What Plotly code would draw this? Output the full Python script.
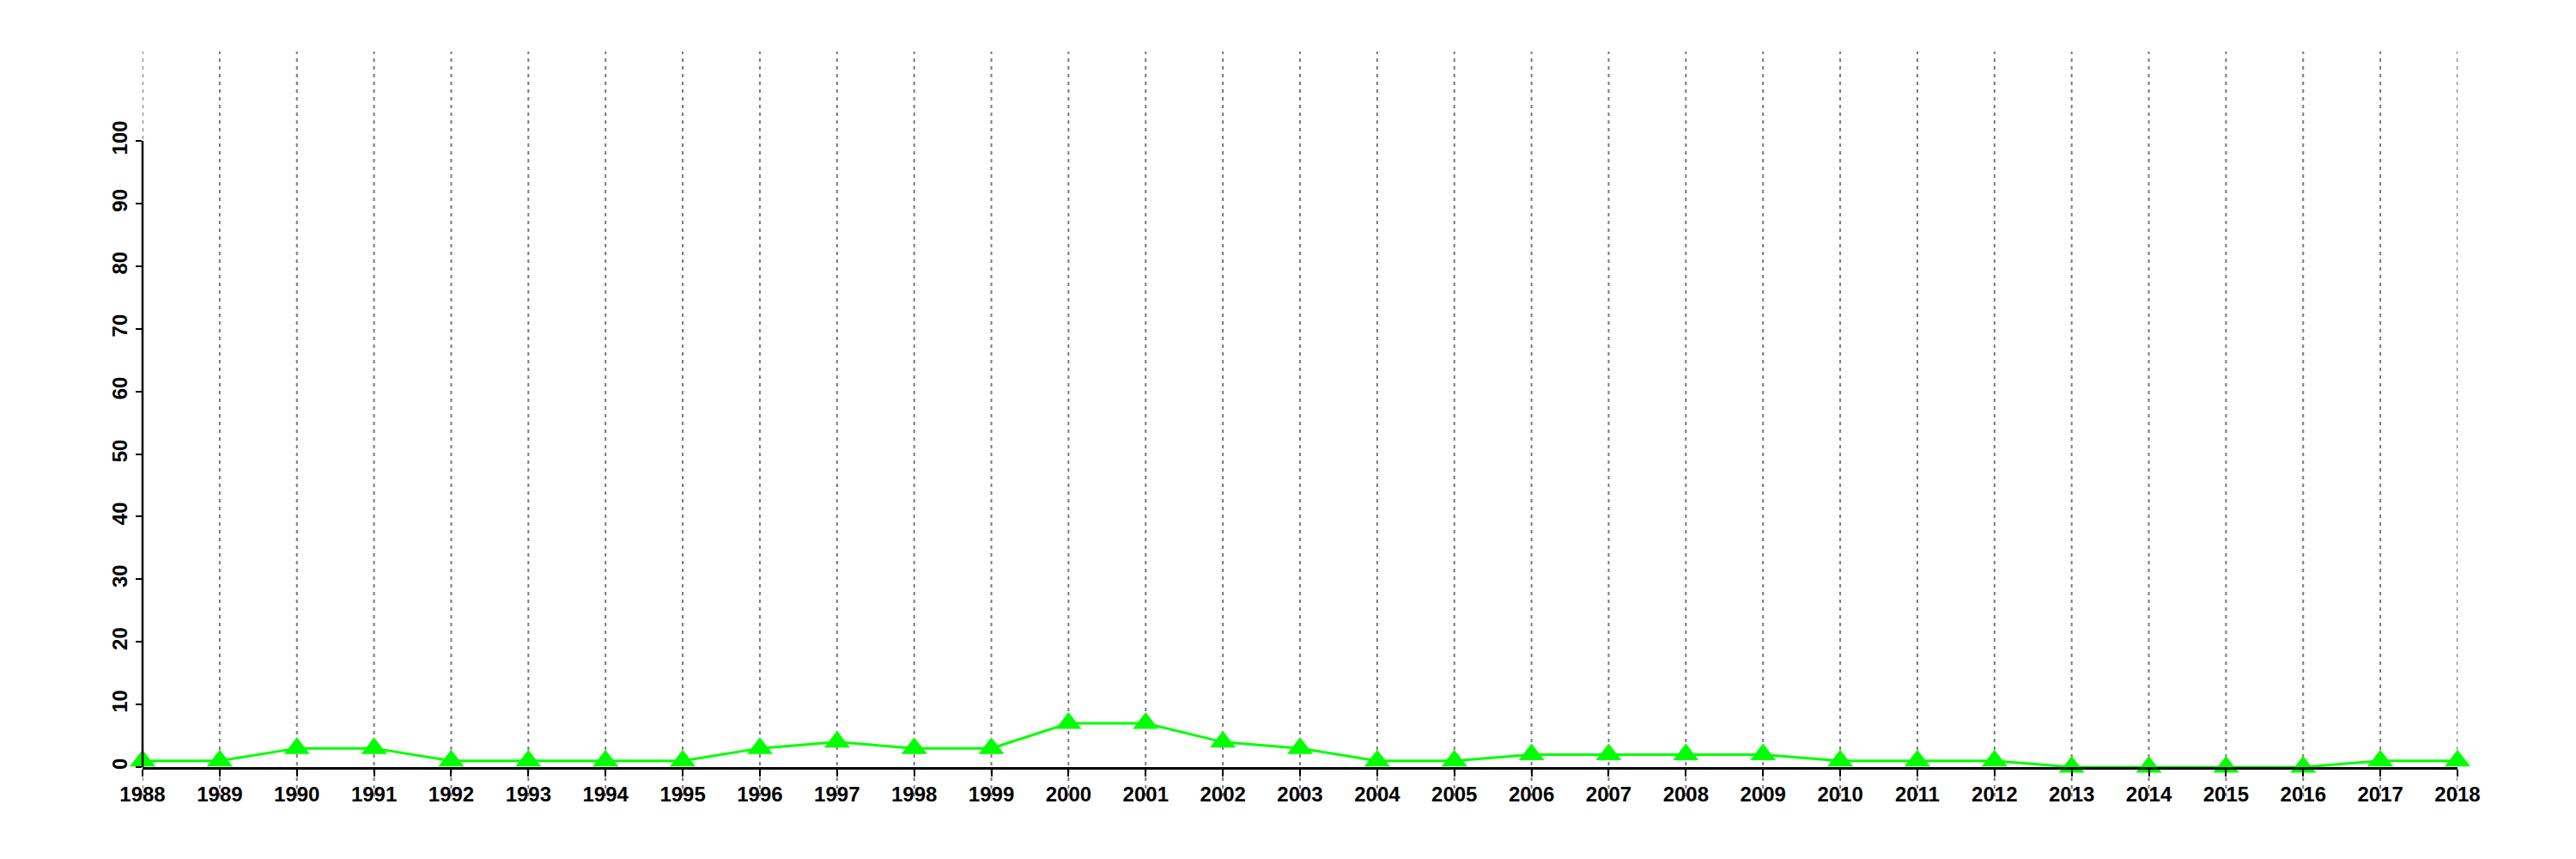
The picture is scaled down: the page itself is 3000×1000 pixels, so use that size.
import plotly.graph_objects as go

years = list(range(1988, 2019))
values = [1, 1, 3, 3, 1, 1, 1, 1, 3, 4, 3, 3, 7, 7, 4, 3, 1, 1, 2, 2, 2, 2, 1, 1, 1, 0, 0, 0, 0, 1, 1]
y_ticks = list(range(0, 101, 10))

W, H = 3000, 1000
OFF = 8  # default page body margin
L, R, T, B = 166 - OFF, 138 + OFF, 60 - OFF, 107 + OFF
plot_h = H - T - B
y_top = 100 * plot_h / (893 - 164)

fig = go.Figure()
fig.add_trace(go.Scatter(
    x=years, y=values, mode="lines+markers",
    line=dict(color="#00FF00", width=3),
    marker=dict(symbol="triangle-up", size=26, color="#00FF00"),
    cliponaxis=False, showlegend=False,
))

shapes = []
for yr in years:
    shapes.append(dict(type="line", xref="x", yref="paper", x0=yr, x1=yr,
                       y0=-(927 - 893) / plot_h, y1=1, layer="below",
                       line=dict(color="#7a7a7a", width=2, dash="4px,5px")))
shapes.append(dict(type="line", xref="paper", yref="y", x0=0, x1=0,
                   y0=y_ticks[0], y1=y_ticks[-1], layer="above",
                   line=dict(color="black", width=2.5)))

tick_font = dict(family="Liberation Sans", size=24, color="black", weight="bold")

fig.update_layout(
    template="none",
    width=W, height=H,
    margin=dict(l=L, r=R, t=T, b=B, pad=0),
    paper_bgcolor="white", plot_bgcolor="white",
    shapes=shapes,
    xaxis=dict(range=[years[0], years[-1]], tickvals=years, ticktext=[str(y) for y in years],
               automargin=False,
               showgrid=False, zeroline=False, showline=True, linecolor="black", linewidth=2.5,
               ticks="outside", ticklen=8, tickwidth=2, tickcolor="black",
               tickfont=tick_font),
    yaxis=dict(range=[0, y_top], tickvals=y_ticks, ticktext=[str(v) for v in y_ticks],
               automargin=False,
               showgrid=False, zeroline=False, showline=False,
               ticks="outside", ticklen=7, tickwidth=2, tickcolor="black", tickangle=-90,
               tickfont=tick_font),
)

fig.write_html("out.html")
